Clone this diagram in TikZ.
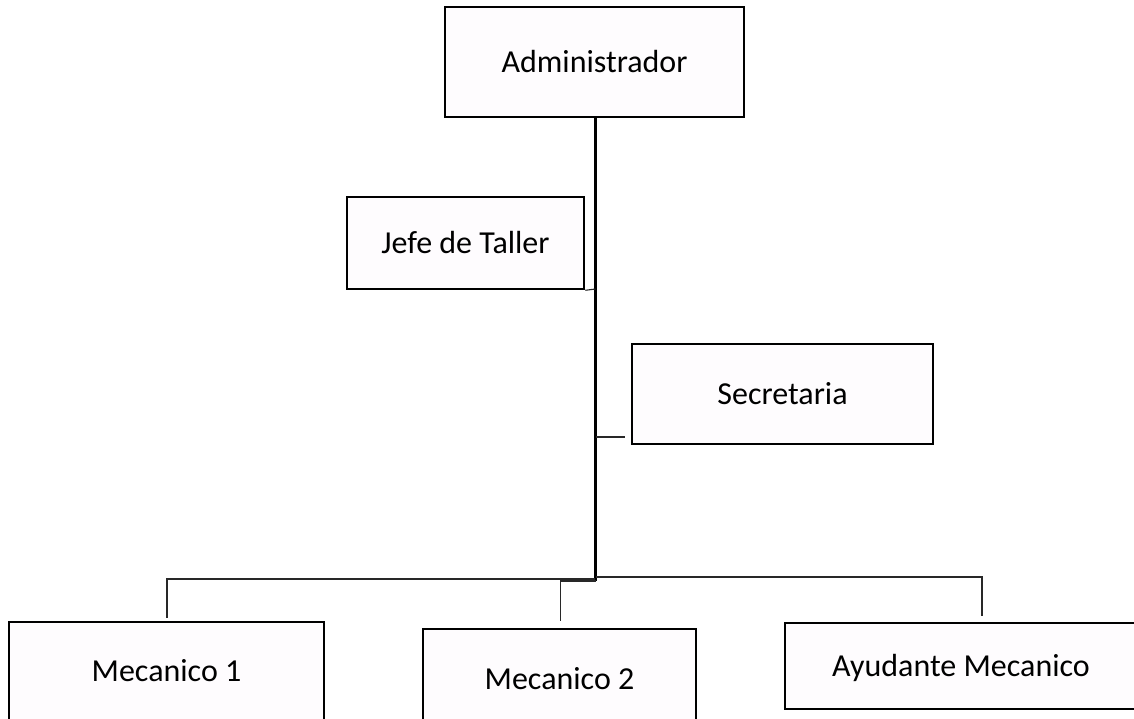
\documentclass[tikz,border=0pt]{standalone}
\usepackage{fontspec}
\setmainfont{Carlito}
\definecolor{boxfill}{RGB}{254,252,254}
\definecolor{linegray}{RGB}{40,40,40}
\begin{document}
\begin{tikzpicture}[x=1pt,y=-1pt,
  orgbox/.style={draw=black,line width=2.6pt,fill=boxfill,inner sep=0pt,
    font=\fontsize{32}{38}\selectfont,text height=20.6pt,text depth=0pt},
  thinline/.style={draw=linegray,line width=1.1pt},
  trunk/.style={draw=black,line width=2.6pt}]
\clip (0,0) rectangle (1134,718);
\fill[white] (0,0) rectangle (1134,718);
\node[orgbox,minimum width=299pt,minimum height=110pt] (admin) at (594.5,62) {Administrador};
\node[orgbox,minimum width=237pt,minimum height=92pt] (jefe) at (465.5,243) {Jefe de Taller};
\node[orgbox,minimum width=301pt,minimum height=100pt] (secre) at (782.5,394) {Secretaria};
\node[orgbox,minimum width=315pt,minimum height=98pt] (mec1) at (166.5,671) {Mecanico 1};
\node[orgbox,minimum width=273pt,minimum height=100pt] (mec2) at (559.5,679) {Mecanico 2};
\node[orgbox,minimum width=352pt,minimum height=86pt] (ayud) at (961,666) {Ayudante Mecanico};
\coordinate (jn) at (595.5,289);
\coordinate (sn) at (595.5,437);
\coordinate (se) at (625,437);
\coordinate (bot) at (595.5,581);
\coordinate (m1top) at (167,618);
\coordinate (m2top) at (560.5,621);
\coordinate (aytop) at (982,616);
\draw[trunk] (admin.south -| bot) -- (bot);
\draw[thinline] (jefe.south east) -- (jn);
\draw[thinline] (sn) -- (se);
\draw[thinline] (595,579) -| (m1top);
\draw[thinline] (596,577) -| (aytop);
\draw[thinline] (bot) -| (m2top);
\end{tikzpicture}
\end{document}
